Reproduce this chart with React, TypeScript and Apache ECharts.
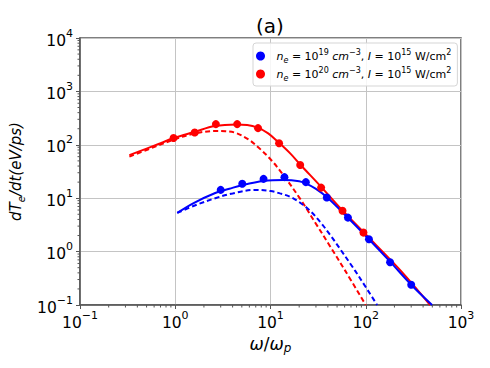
import React, { useEffect, useRef } from 'react';
import * as echarts from 'echarts';

// ---- data ----
const redSolidX = [0.33, 0.5, 0.7, 0.96, 1.6, 2.6, 4.4, 5.69, 7.43, 9.46, 12.3, 16.1, 20.5, 34, 57, 95, 230, 474];
const redSolidY = [64, 85, 107, 134, 175, 224, 240, 236, 208, 164, 109, 69, 42.8, 16.3, 5.9, 2.3, 0.45, 0.1];

const redDashX = [0.33, 0.5, 1.0, 1.6, 2.63, 3.35, 4.26, 5.88, 7.48, 10, 13.3, 20.5, 29.4, 42.3, 60.8, 100];
const redDashY = [60, 80, 128, 163, 181, 179, 168, 126, 89, 53.7, 28.8, 9.7, 3.52, 1.25, 0.44, 0.1];

const blueSolidX = [1.05, 1.56, 2.63, 3.7, 5.0, 8.45, 13.8, 20, 24, 30, 39, 65, 108, 180, 300, 497];
const blueSolidY = [5.3, 8.1, 12.5, 15, 17.5, 21, 22, 20.8, 18.6, 15, 10.5, 4.3, 1.7, 0.65, 0.24, 0.1];

const blueDashX = [1.05, 1.6, 2.63, 4, 6.9, 10, 12.6, 16.1, 20.5, 26.1, 33.2, 42.3, 53.8, 68.6, 87.4, 131.7];
const blueDashY = [5.3, 7.3, 10, 12.3, 14.3, 13.6, 12.3, 10.6, 8.2, 5.8, 3.6, 2.05, 1.12, 0.6, 0.314, 0.1];

const redPtsX = [0.96, 1.6, 2.67, 4.47, 7.4, 12.3, 20.5, 34, 57, 94.6];
const redPtsY = [134, 170, 244, 244, 205, 107, 42, 15.8, 5.8, 2.27];

const bluePtsX = [3.0, 5.05, 8.45, 14, 23.5, 39, 65, 108, 180, 300];
const bluePtsY = [14.3, 18.6, 23, 24.8, 20, 10.3, 4.33, 1.7, 0.63, 0.24];

const xMin = 0.1, xMax = 1000;
const yMin = 0.1, yMax = 10000;
const xMinorDecades = [0.1, 1, 10, 100];
const yMinorDecades = [0.1, 1, 10, 100, 1000];
const minorMultipliers = [2, 3, 4, 5, 6, 7, 8, 9];

const seriesNames = ['ne19', 'ne20'];

const FONT = 'DejaVu Sans';
const AX = '#555';

const zip = (xs: number[], ys: number[]) => xs.map((x, i) => [x, ys[i]]);

const tickFmt = (v: number) => {
  const e = Math.round(Math.log10(v));
  return `{b|10}{s|${e < 0 ? '\u2212' + -e : e}}`;
};

const tickRich = {
  b: { fontSize: 15.5, lineHeight: 21, verticalAlign: 'bottom', fontFamily: FONT, color: '#000' },
  s: { fontSize: 11, lineHeight: 11, verticalAlign: 'top', fontFamily: FONT, color: '#000' },
};

const legendRich = {
  i: { fontSize: 11, lineHeight: 16, fontStyle: 'italic', fontFamily: FONT, color: '#000' },
  n: { fontSize: 11, lineHeight: 16, fontFamily: FONT, color: '#000' },
  sup: { fontSize: 8, lineHeight: 8, verticalAlign: 'top', fontFamily: FONT, color: '#000' },
  sub: { fontSize: 8, lineHeight: 8, verticalAlign: 'bottom', fontFamily: FONT, color: '#000', fontStyle: 'italic' },
};

const legendText: Record<string, string> = {
  ne19: '{i|n}{sub|e}{n| = 10}{sup|19}{i| cm}{sup|\u22123}{n|, }{i|I}{n| = 10}{sup|15}{n| W/cm}{sup|2}',
  ne20: '{i|n}{sub|e}{n| = 10}{sup|20}{i| cm}{sup|\u22123}{n|, }{i|I}{n| = 10}{sup|15}{n| W/cm}{sup|2}',
};

function minorTickSeries(axis: 'x' | 'y') {
  const vals: number[] = [];
  const decades = axis === 'x' ? xMinorDecades : yMinorDecades;
  decades.forEach((d) => minorMultipliers.forEach((m) => vals.push(m * d)));
  return {
    type: 'custom',
    coordinateSystem: 'cartesian2d',
    silent: true,
    clip: false,
    z: 5,
    data: vals.map((v) => (axis === 'x' ? [v, yMin] : [xMin, v])),
    renderItem: (params: any, api: any) => {
      const p = api.coord([api.value(0), api.value(1)]);
      const shape =
        axis === 'x'
          ? { x1: p[0], y1: p[1], x2: p[0], y2: p[1] + 2.5 }
          : { x1: p[0], y1: p[1], x2: p[0] - 2.5, y2: p[1] };
      return { type: 'line', shape, style: { stroke: AX, lineWidth: 1 } };
    },
  };
}

export default function App() {
  const ref = useRef<HTMLDivElement>(null);
  useEffect(() => {
    const chart = echarts.init(ref.current!, null, { renderer: 'svg' });
    const lineStyleBase = { width: 2 };
    const SM = 0.35;
    chart.setOption({
      animation: false,
      backgroundColor: '#fff',
      textStyle: { fontFamily: FONT },
      grid: {
        left: 80, right: 29, top: 38, bottom: 63,
        show: true, borderColor: AX, borderWidth: 1.5, backgroundColor: 'transparent',
      },
      graphic: [
        {
          type: 'text', x: 270, y: 26,
          style: { text: '(a)', align: 'center', verticalAlign: 'middle', fontSize: 20, fontFamily: FONT, fill: '#000' },
        },
      ],
      legend: {
        orient: 'vertical',
        left: 253, top: 43,
        padding: [5, 6, 4, 3],
        itemWidth: 22, itemHeight: 9, itemGap: 2,
        icon: 'circle',
        backgroundColor: 'rgba(255,255,255,0.85)',
        borderColor: '#d5d5d5', borderWidth: 1, borderRadius: 3,
        data: seriesNames,
        formatter: (name: string) => legendText[name],
        textStyle: { rich: legendRich },
      },
      xAxis: {
        type: 'log', logBase: 10, min: xMin, max: xMax,
        axisLine: { show: true, lineStyle: { color: AX, width: 1.5 } },
        axisTick: { show: true, length: 4, inside: false, lineStyle: { color: AX, width: 1 } },
        axisLabel: { formatter: tickFmt, rich: tickRich, margin: 5, color: '#000' },
        splitLine: { show: true, lineStyle: { color: '#c4c4c4', width: 1 } },
        name: '{i|\u03c9}{n|/}{i|\u03c9}{sub|p}',
        nameLocation: 'middle',
        nameGap: 27,
        nameTextStyle: {
          rich: {
            i: { fontSize: 17, lineHeight: 20, fontStyle: 'italic', fontFamily: FONT, color: '#000' },
            n: { fontSize: 17, lineHeight: 20, fontFamily: FONT, color: '#000' },
            sub: { fontSize: 12, lineHeight: 12, verticalAlign: 'bottom', fontStyle: 'italic', fontFamily: FONT, color: '#000' },
          },
        },
      },
      yAxis: {
        type: 'log', logBase: 10, min: yMin, max: yMax,
        axisLine: { show: true, lineStyle: { color: AX, width: 1.5 } },
        axisTick: { show: true, length: 4, inside: false, lineStyle: { color: AX, width: 1 } },
        axisLabel: { formatter: tickFmt, rich: tickRich, margin: 7, color: '#000' },
        splitLine: { show: true, lineStyle: { color: '#c4c4c4', width: 1 } },
        name: '{i|dT}{sub|e}{i|/dt(eV/ps)}',
        nameLocation: 'middle',
        nameGap: 48,
        nameTextStyle: {
          rich: {
            i: { fontSize: 15, lineHeight: 20, fontStyle: 'italic', fontFamily: FONT, color: '#000' },
            sub: { fontSize: 10, lineHeight: 10, verticalAlign: 'bottom', fontStyle: 'italic', fontFamily: FONT, color: '#000' },
          },
        },
      },
      series: [
        {
          type: 'line', name: 'redSolid', data: zip(redSolidX, redSolidY), showSymbol: false, smooth: SM,
          lineStyle: { ...lineStyleBase, color: '#ff0000' }, itemStyle: { color: '#ff0000' }, z: 2,
        },
        {
          type: 'line', name: 'redDash', data: zip(redDashX, redDashY), showSymbol: false, smooth: SM,
          lineStyle: { ...lineStyleBase, color: '#ff0000', type: [5, 3] }, itemStyle: { color: '#ff0000' }, z: 2,
        },
        {
          type: 'line', name: 'blueSolid', data: zip(blueSolidX, blueSolidY), showSymbol: false, smooth: SM,
          lineStyle: { ...lineStyleBase, color: '#0000ff' }, itemStyle: { color: '#0000ff' }, z: 3,
        },
        {
          type: 'line', name: 'blueDash', data: zip(blueDashX, blueDashY), showSymbol: false, smooth: SM,
          lineStyle: { ...lineStyleBase, color: '#0000ff', type: [5, 3] }, itemStyle: { color: '#0000ff' }, z: 3,
        },
        {
          type: 'scatter', name: 'ne20', data: zip(redPtsX, redPtsY), symbol: 'circle', symbolSize: 8,
          itemStyle: { color: '#ff0000', opacity: 1 }, z: 4,
        },
        {
          type: 'scatter', name: 'ne19', data: zip(bluePtsX, bluePtsY), symbol: 'circle', symbolSize: 8,
          itemStyle: { color: '#0000ff', opacity: 1 }, z: 4,
        },
        minorTickSeries('x'),
        minorTickSeries('y'),
      ],
    });
    return () => chart.dispose();
  }, []);
  return <div ref={ref} style={{ position: 'absolute', left: 0, top: 0, width: 490, height: 368 }} />;
}
